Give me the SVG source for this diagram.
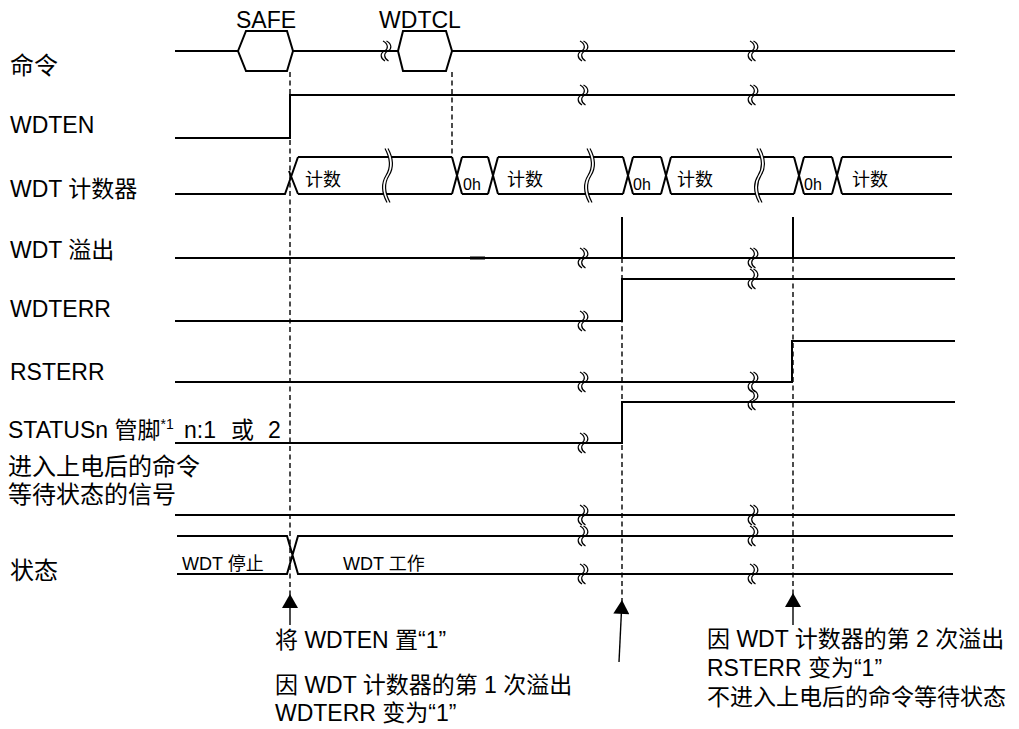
<svg xmlns="http://www.w3.org/2000/svg" xmlns:xlink="http://www.w3.org/1999/xlink" width="1019" height="729" viewBox="0 0 1019 729">
<style>
.sig{fill:none;stroke:#000;stroke-width:2;stroke-linejoin:miter}
.brk path{fill:none;stroke:#000;stroke-width:1.2}
.dash{fill:none;stroke:#000;stroke-width:1.4;stroke-dasharray:5 3.5}
.arr{fill:none;stroke:#000;stroke-width:1.4}
text{font-family:"Liberation Sans","Noto Sans CJK SC",sans-serif;fill:#000}
.lbl{font-size:23px}
.cj{font-size:24px}
.sm{font-size:18px}
.tiny{font-size:16px}
.ann{font-size:23px}
</style>
<defs>
<g id="hb" class="brk"><path d="M-3,-10 C2.5,-7 2.5,-2 -1.5,0 C-6,2 -6,7 -1,10"/><path d="M0.5,-10 C6,-7 6,-2 2,0 C-2.5,2 -2.5,7 2.5,10"/></g>
<g id="vb" class="brk"><path d="M-1,-27 C5,-16 5,-8 0,0 C-5,8 -5,16 1,27"/><path d="M2,-27 C8,-16 8,-8 3,0 C-2,8 -2,16 4,27"/></g>
<marker id="ah" markerUnits="userSpaceOnUse" markerWidth="16" markerHeight="16" viewBox="0 0 14 16" refX="14" refY="8" orient="auto"><path d="M0,0 L14,8 L0,16 z" fill="#000"/></marker>
</defs>
<rect width="1019" height="729" fill="#fff"/>

<g id="labels">
<text class="cj" x="10" y="74">命令</text>
<text class="lbl" x="10" y="133">WDTEN</text>
<text class="lbl" x="10" y="197">WDT 计数器</text>
<text class="lbl" x="10" y="258">WDT 溢出</text>
<text class="lbl" x="10" y="317">WDTERR</text>
<text class="lbl" x="10" y="380">RSTERR</text>
<text class="lbl" y="438"><tspan x="8">STATUSn 管脚</tspan><tspan dy="-9" font-size="14">*1</tspan><tspan x="184" dy="9">n:1</tspan><tspan x="231">或</tspan><tspan x="268">2</tspan></text>
<text class="cj" x="8" y="475">进入上电后的命令</text>
<text class="cj" x="8" y="503">等待状态的信号</text>
<text class="cj" x="10" y="579">状态</text>
<text class="lbl" x="266" y="28" text-anchor="middle">SAFE</text>
<text class="lbl" x="420" y="28" text-anchor="middle">WDTCL</text>
</g>

<g id="cmd">
<path class="sig" d="M175,51 H238 M293,51 H398 M452,51 H955"/>
<path class="sig" d="M238,51 L246,31 H287 L293,51 L287,71 H246 Z"/>
<path class="sig" d="M398,51 L403,31 H446 L452,51 L446,71 H403 Z"/>
<use href="#hb" x="386" y="51"/><use href="#hb" x="583" y="51"/><use href="#hb" x="753" y="51"/>
</g>

<g id="wdten">
<path class="sig" d="M175,138 H290 V95 H955"/>
<use href="#hb" x="583" y="95"/><use href="#hb" x="753" y="95"/>
</g>

<g id="counter">
<path class="sig" d="M175,194 H285 L298,157 M289,171 L298,194"/>
<path class="sig" d="M298,157 H388 M391,157 H452 M298,194 H384 M387,194 H452"/>
<path class="sig" d="M452,157 L462,194 M452,194 L462,157 M462,157 H488 M462,194 H488 M488,157 L498,194 M488,194 L498,157"/>
<path class="sig" d="M498,157 H590 M593,157 H623 M498,194 H586 M589,194 H623"/>
<path class="sig" d="M623,157 L633,194 M623,194 L633,157 M633,157 H661 M633,194 H661 M661,157 L671,194 M661,194 L671,157"/>
<path class="sig" d="M671,157 H760 M763,157 H794 M671,194 H756 M759,194 H794"/>
<path class="sig" d="M794,157 L804,194 M794,194 L804,157 M804,157 H832 M804,194 H832 M832,157 L842,194 M832,194 L842,157 M842,157 H952 M842,194 H952"/>
<use href="#vb" x="386" y="175.5"/><use href="#vb" x="588" y="175.5"/><use href="#vb" x="758" y="175.5"/>
<text class="sm" x="305" y="186">计数</text>
<text class="tiny" x="463" y="190">0h</text>
<text class="sm" x="507" y="186">计数</text>
<text class="tiny" x="633" y="190">0h</text>
<text class="sm" x="677" y="186">计数</text>
<text class="tiny" x="804" y="190">0h</text>
<text class="sm" x="852" y="186">计数</text>
</g>

<g id="overflow">
<path class="sig" d="M175,258 H955 M622,217 V258 M793,217 V258"/>
<path d="M470,258 H485" stroke="#000" stroke-width="3"/>
<use href="#hb" x="583" y="258"/><use href="#hb" x="753" y="258"/>
</g>

<g id="wdterr">
<path class="sig" d="M175,321 H622 V279 H955"/>
<use href="#hb" x="583" y="321"/><use href="#hb" x="753" y="279"/>
</g>

<g id="rsterr">
<path class="sig" d="M175,382 H792 V341 H955"/>
<use href="#hb" x="583" y="382"/><use href="#hb" x="753" y="382"/>
</g>

<g id="statusn">
<path class="sig" d="M175,443 H622 V402 H955"/>
<use href="#hb" x="583" y="443"/><use href="#hb" x="753" y="400"/>
</g>

<g id="waitsig">
<path class="sig" d="M175,515 H955"/>
<use href="#hb" x="583" y="515"/><use href="#hb" x="753" y="515"/>
</g>

<g id="state">
<path class="sig" d="M177,536 H287 L298,574 H953 M177,574 H287 L298,536 H953"/>
<use href="#hb" x="583" y="536"/><use href="#hb" x="753" y="536"/>
<use href="#hb" x="583" y="574"/><use href="#hb" x="753" y="574"/>
<text class="sm" x="182" y="570">WDT 停止</text>
<text class="sm" x="343" y="570">WDT 工作</text>
</g>

<g id="connectors">
<path class="dash" d="M290,72 V594 M452,72 V157 M622,258 V600 M793,258 V593"/>
<path class="arr" d="M290,625 V594" marker-end="url(#ah)"/>
<path class="arr" d="M619,662 L622,600" marker-end="url(#ah)"/>
<path class="arr" d="M793,625 V593" marker-end="url(#ah)"/>
</g>

<g id="annotations">
<text class="ann" x="275" y="648">将 WDTEN 置“1”</text>
<text class="ann" x="275" y="693">因 WDT 计数器的第 1 次溢出</text>
<text class="ann" x="275" y="721">WDTERR 变为“1”</text>
<text class="ann" x="707" y="647">因 WDT 计数器的第 2 次溢出</text>
<text class="ann" x="707" y="676">RSTERR 变为“1”</text>
<text class="ann" x="707" y="705">不进入上电后的命令等待状态</text>
</g>
</svg>
